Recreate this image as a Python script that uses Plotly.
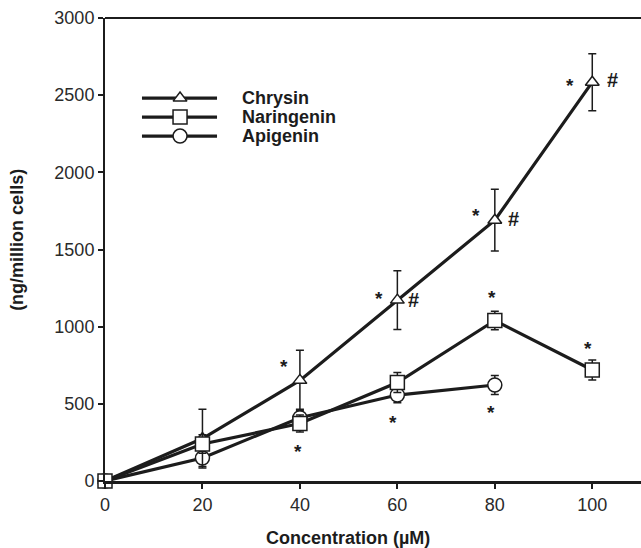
import plotly.graph_objects as go

# ---- data ----
conc = [0, 20, 40, 60, 80, 100]
conc_api = [0, 20, 40, 60, 80]
chrysin = [0, 275, 652, 1172, 1690, 2584]
chrysin_err = [0, 190, 195, 190, 200, 185]
naringenin = [0, 240, 372, 638, 1040, 719]
naringenin_err = [0, 60, 55, 65, 60, 65]
apigenin = [0, 149, 410, 557, 622]
apigenin_err = [0, 55, 55, 50, 62]

x_ticks = [0, 20, 40, 60, 80, 100]
y_ticks = [0, 500, 1000, 1500, 2000, 2500, 3000]

series_names = ["Chrysin", "Naringenin", "Apigenin"]
series_symbols = ["triangle-up", "square", "circle"]

# significance marks: (series, concentration, text, dx px, dy px)
marks = [
    ("Chrysin", 40, "*", -16, -14),
    ("Chrysin", 60, "*", -18, -2),
    ("Chrysin", 60, "#", 16, 0),
    ("Chrysin", 80, "*", -19, -5),
    ("Chrysin", 80, "#", 19, -1),
    ("Chrysin", 100, "*", -22, 3),
    ("Chrysin", 100, "#", 20, -2),
    ("Naringenin", 40, "*", -2, 28),
    ("Naringenin", 60, "*", -4, 40),
    ("Naringenin", 80, "*", -3, -23),
    ("Naringenin", 100, "*", -4, -22),
    ("Apigenin", 80, "*", -4, 27),
]

data = {
    "Chrysin": (conc, chrysin, chrysin_err),
    "Naringenin": (conc, naringenin, naringenin_err),
    "Apigenin": (conc_api, apigenin, apigenin_err),
}

INK = "#1c1c1c"
FONT = "Liberation Sans, Arial, Helvetica, sans-serif"

fig = go.Figure()

# draw order: Apigenin, Chrysin, Naringenin (squares on top)
for name in ["Apigenin", "Chrysin", "Naringenin"]:
    xs, ys, es = data[name]
    sym = series_symbols[series_names.index(name)]
    size = 12 if sym == "triangle-up" else 14
    fig.add_trace(go.Scatter(
        x=xs, y=ys, mode="lines+markers", name=name, showlegend=False,
        line=dict(color=INK, width=3.2),
        marker=dict(symbol=sym, size=size, color="white",
                    line=dict(color=INK, width=1.5)),
        error_y=dict(type="data", array=es, visible=True,
                     color=INK, thickness=1.5, width=4),
        cliponaxis=False,
    ))

# custom legend (paper-like overlay axes)
leg_y = [0.827, 0.786, 0.745]
for name, sym, yy in zip(series_names, series_symbols, leg_y):
    size = 12 if sym == "triangle-up" else 14
    fig.add_trace(go.Scatter(
        x=[0.069, 0.209], y=[yy, yy], mode="lines", showlegend=False,
        line=dict(color=INK, width=3.2), xaxis="x2", yaxis="y2",
        hoverinfo="skip",
    ))
    fig.add_trace(go.Scatter(
        x=[0.140], y=[yy], mode="markers", showlegend=False,
        marker=dict(symbol=sym, size=size, color="white",
                    line=dict(color=INK, width=1.5)),
        xaxis="x2", yaxis="y2", hoverinfo="skip",
    ))
    fig.add_annotation(
        x=0.252, y=yy, xref="x2", yref="y2", text="<b>%s</b>" % name,
        showarrow=False, xanchor="left", yanchor="middle",
        font=dict(family=FONT, size=18, color=INK),
    )

# significance annotations
for name, cx, txt, dx, dy in marks:
    xs, ys, es = data[name]
    yv = ys[xs.index(cx)]
    is_hash = txt == "#"
    fig.add_annotation(
        x=cx, y=yv, xref="x", yref="y", text="<b>%s</b>" % txt,
        showarrow=False, xshift=dx, yshift=-dy,
        font=dict(family=FONT, size=20 if is_hash else 19, color=INK),
    )

# axis titles
fig.add_annotation(
    x=0.453, y=-0.123, xref="paper", yref="paper",
    text="<b>Concentration (µM)</b>", showarrow=False,
    font=dict(family=FONT, size=18, color=INK), yanchor="middle",
)
fig.add_annotation(
    x=-0.163, y=0.52, xref="paper", yref="paper",
    text="<b>(ng/million cells)</b>", showarrow=False, textangle=-90,
    font=dict(family=FONT, size=18, color=INK), xanchor="center",
)

# top frame line
fig.add_shape(type="line", xref="paper", yref="paper",
              x0=0, x1=1, y0=1, y1=1, line=dict(color=INK, width=2))

fig.update_layout(
    width=641, height=548,
    margin=dict(l=105, r=0, t=18, b=67),
    plot_bgcolor="white", paper_bgcolor="white",
    font=dict(family=FONT, color=INK),
    xaxis=dict(range=[0, 110], tickvals=x_ticks, showgrid=False, zeroline=False,
               showline=True, linecolor=INK, linewidth=3,
               ticks="outside", ticklen=5, tickwidth=1.5, tickcolor=INK,
               tickfont=dict(family=FONT, size=18, color="#2a2a2a")),
    yaxis=dict(range=[0, 3000], tickvals=y_ticks, showgrid=False, zeroline=False,
               showline=True, linecolor=INK, linewidth=2,
               ticks="outside", ticklen=5, tickwidth=1.5, tickcolor=INK,
               tickfont=dict(family=FONT, size=18, color="#2a2a2a")),
    xaxis2=dict(range=[0, 1], overlaying="x", visible=False, anchor="y2"),
    yaxis2=dict(range=[0, 1], overlaying="y", visible=False, anchor="x2"),
)

fig.write_html("out.html")
